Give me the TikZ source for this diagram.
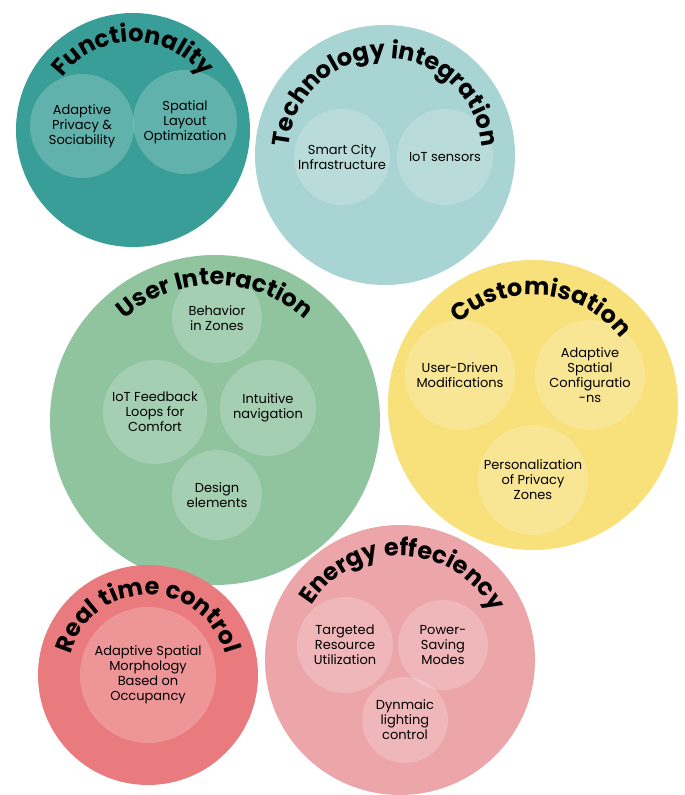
\documentclass[tikz,border=0pt]{standalone}
\usepackage{fontspec}
\setmainfont{Poppins}
\usetikzlibrary{decorations.text,calc}
\definecolor{cFun}{HTML}{3A9E98}
\definecolor{cTec}{HTML}{A8D4D3}
\definecolor{cUse}{HTML}{8FC49F}
\definecolor{cCus}{HTML}{F8E07A}
\definecolor{cEne}{HTML}{ECA5A8}
\definecolor{cRea}{HTML}{E97B7E}
\tikzset{
  big/.style={circle,minimum size=#1,inner sep=0pt},
  inner/.style={circle,fill=white,fill opacity=0.2,text opacity=1,minimum size=#1,inner sep=0pt,align=center,font=\fontsize{13}{15}\selectfont},
}
\newcommand{\arctitle}[5]{% center, radius, start, end, text
  \path[decorate,decoration={text along path,text align=center,text={|\bfseries\fontsize{24}{24}\selectfont|#5}}]
    ($#1+(#3:#2)$) arc(#3:#4:#2);}
\begin{document}
\begin{tikzpicture}[x=1pt,y=1pt]
\useasboundingbox (0,0) rectangle (685,795);
\fill[white] (0,0) rectangle (685,795);
% Functionality
\node[big=234pt,fill=cFun] (fun) at (133,665) {};
\node[inner=104pt] (f1) at (82,669) {Adaptive\\Privacy \&\\Sociability};
\node[inner=104pt] (f2) at (185,673) {Spatial\\Layout\\Optimization};
\arctitle{(133,665)}{88}{160}{20}{Functionality}
% Technology
\node[big=260pt,fill=cTec] (tec) at (385,640) {};
\node[inner=96pt] (t1) at (342,638) {Smart City\\Infrastructure};
\node[inner=96pt] (t2) at (445,638) {IoT sensors};
\arctitle{(385,640)}{97}{186}{-6}{Technology integration}
% User interaction
\node[big=330pt,fill=cUse] (use) at (215,375) {};
\node[inner=90pt] (u1) at (217,477) {Behavior\\in Zones};
\node[inner=104pt] (u2) at (155,383) {IoT Feedback\\Loops for\\Comfort};
\node[inner=96pt] (u3) at (268,387) {Intuitive\\navigation};
\node[inner=90pt] (u4) at (217,300) {Design\\elements};
\arctitle{(215,375)}{135}{150}{30}{User Interaction}
% Customisation
\node[big=290pt,fill=cCus] (cus) at (533,390) {};
\node[inner=110pt] (c1) at (460,420) {User-Driven\\Modifications};
\node[inner=110pt] (c2) at (590,420) {Adaptive\\Spatial\\Configuratio\\-ns};
\node[inner=110pt] (c3) at (533,315) {Personalization\\of Privacy\\Zones};
\arctitle{(533,390)}{110}{152}{18}{Customisation}
% Energy
\node[big=270pt,fill=cEne] (ene) at (400,135) {};
\node[inner=96pt] (e1) at (345,150) {Targeted\\Resource\\Utilization};
\node[inner=90pt] (e2) at (443,150) {Power-\\Saving\\Modes};
\node[inner=86pt] (e3) at (405,75) {Dynmaic\\lighting\\control};
\arctitle{(400,135)}{104}{168}{8}{Energy effeciency}
% Real time
\node[big=220pt,fill=cRea] (rea) at (148,120) {};
\node[inner=136pt] (r1) at (148,120) {Adaptive Spatial\\Morphology\\Based on\\Occupancy};
\arctitle{(148,120)}{80}{188}{-8}{Real time control}
\end{tikzpicture}
\end{document}
